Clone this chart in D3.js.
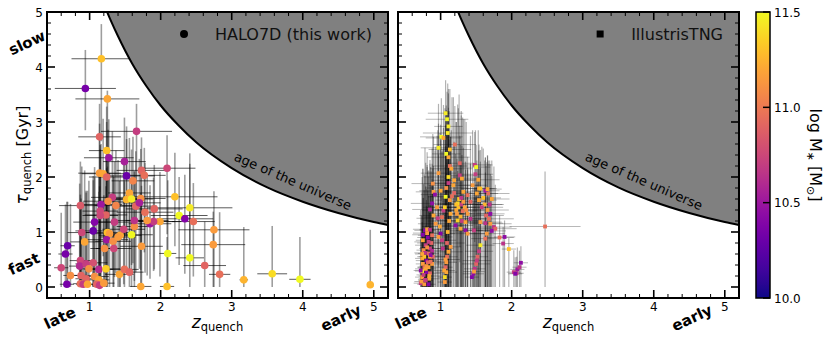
<!DOCTYPE html>
<html><head><meta charset="utf-8">
<script src="https://cdn.jsdelivr.net/npm/d3@7"></script>
<style>body{margin:0;background:#fff}text{font-family:"DejaVu Sans",sans-serif}</style>
</head><body><svg id="c" width="831" height="341"></svg>
<script>
// ---------- HALO7D (observed) ----------
const haloZ=[1.165,0.94,1.25,1.66,1.14,1.24,1.27,1.49,1.52,2.09,
1.14,1.19,1.24,1.73,1.77,1.61,2.20,2.41,2.26,2.34,
2.46,1.91,1.99,1.85,1.90,1.78,1.81,1.65,1.72,1.70,
1.56,1.52,1.59,1.32,1.26,1.16,0.87,1.37,1.15,1.23,
1.35,1.15,1.07,1.05,0.89,0.93,1.25,1.28,1.24,1.33,
1.43,1.40,1.59,1.48,1.63,1.63,1.34,1.21,1.73,0.69,
0.66,0.60,0.73,0.68,0.87,0.86,0.95,1.05,0.99,1.13,
1.23,0.88,0.95,1.07,1.13,0.87,0.91,0.97,1.10,1.14,
1.20,1.42,1.49,1.56,1.72,2.09,2.10,2.41,2.62,2.75,
2.74,2.83,3.17,3.57,3.96,4.95];
const haloTau=[4.15,3.61,3.42,2.83,2.73,2.48,2.35,2.28,2.02,2.16,
2.07,2.06,2.00,2.12,2.03,1.93,1.64,1.44,1.30,1.24,
1.19,1.42,1.19,1.15,1.19,1.36,1.21,1.47,1.61,1.53,
1.71,1.59,1.60,1.63,1.56,1.50,1.48,1.48,1.38,1.31,
1.18,1.30,1.18,1.02,0.99,0.82,0.99,0.97,0.86,0.83,
0.94,0.91,0.95,1.05,1.10,1.21,0.70,0.70,0.74,0.75,
0.60,0.35,0.21,0.05,0.48,0.38,0.42,0.44,0.33,0.32,
0.33,0.21,0.15,0.19,0.13,0.06,0.05,0.05,0.05,0.03,
0.07,0.23,0.32,0.27,0.01,0.01,0.61,0.53,0.39,1.04,
0.77,0.23,0.13,0.24,0.14,0.04];
const haloMass=[11.3,10.35,11.2,10.7,10.9,11.3,10.5,10.55,10.3,10.75,
11.15,11.2,10.9,10.9,10.95,11.05,11.3,11.45,11.5,10.4,
10.95,10.9,11.2,10.5,10.7,10.95,11.15,10.9,11.1,10.55,
11.2,11.25,11.45,10.7,11.1,10.5,10.85,11.05,10.75,10.9,
10.7,10.75,10.4,10.3,10.75,11.2,11.3,11.15,10.5,11.1,
11.2,11.15,11.5,10.75,11.1,10.65,10.75,11.1,11.15,10.3,
10.35,10.75,11.1,10.35,10.75,10.6,10.7,10.8,11.1,10.6,
11.35,10.9,10.9,11.1,11.2,10.95,10.7,11.2,10.9,10.7,
11.15,11.2,10.95,10.9,11.2,11.3,11.5,11.5,10.9,11.15,
11.15,10.95,11.25,11.4,11.5,11.25];
const haloZErr=[.42,.43,.45,.5,.3,.25,.35,.3,.4,.4,
.3,.3,.25,.35,.3,.3,.6,.6,.4,.4,
.3,.4,.3,.3,.3,.4,.3,.3,.35,.3,
.3,.25,.3,.3,.35,.3,.3,.3,.25,.3,
.3,.25,.3,.25,.2,.2,.3,.25,.3,.25,
.3,.25,.3,.3,.25,.3,.25,.2,.3,.1,
.1,.1,.1,.1,.15,.15,.15,.2,.15,.2,
.2,.15,.15,.2,.15,.1,.1,.15,.15,.1,
.15,.2,.2,.2,.15,.1,.12,.2,.3,.5,
.45,.15,.06,.21,.15,.03];
const haloTauLo=[1.5,.76,1.5,1.6,1.0,1.2,1.3,1.4,1.2,1.2,
1.8,1.5,1.2,1.3,1.4,1.5,.9,.9,.9,1.0,
1.0,1.1,1.0,1.0,.9,1.1,1.0,1.2,1.3,1.2,
1.4,1.3,1.2,1.3,1.2,1.3,1.48,1.2,1.2,1.1,
1.0,1.1,1.0,1.02,.99,.82,.99,.97,.86,.83,
.94,.91,.95,1.0,1.1,1.1,.7,.7,.74,.75,
.6,.35,.21,.05,.48,.38,.42,.44,.33,.32,
.33,.21,.15,.19,.13,.06,.05,.05,.05,.03,
.07,.23,.32,.27,.01,.01,.61,.53,.39,1.04,
.77,.23,.13,.24,.14,.04];
const haloTauHi=[.63,.7,.15,.5,.6,.8,.7,.8,.9,.6,
.9,1.0,1.0,.6,.5,.8,.8,.8,.7,.8,
.7,.8,.9,.7,.8,.9,.8,1.0,.9,.8,
1.0,1.1,.9,1.2,1.3,1.1,.8,1.0,1.2,1.0,
1.1,1.2,1.0,1.0,1.2,1.3,1.2,1.1,1.3,1.2,
1.1,1.4,1.0,1.2,1.0,.9,1.3,1.4,1.1,.8,
.9,1.0,1.3,1.5,1.2,1.5,1.3,1.5,1.6,1.7,
1.5,1.4,1.6,1.8,1.6,1.4,1.5,1.7,1.5,1.8,
1.6,1.7,1.6,1.5,1.7,.9,1.33,1.9,.8,.7,
.6,1.13,.96,.87,.77,1.0];

// ---------- IllustrisTNG ----------
const tngZ=[1.07,1.09,1.11,1.01,1.04,1.20,0.97,1.08,1.11,1.13,
1.15,1.27,1.48,1.50,0.97,1.11,1.19,1.27,1.30,0.89,
1.54,1.56,1.63,0.90,0.92,1.00,1.07,1.13,1.19,1.32,
1.38,1.51,1.54,0.88,0.85,0.95,1.04,0.90,1.02,1.14,
1.23,1.28,1.24,1.30,1.35,1.38,1.42,1.21,1.28,1.35,
1.38,1.47,1.56,1.63,1.68,1.70,1.75,1.77,1.72,1.65,
1.63,1.83,1.90,1.88,1.96,1.56,1.54,1.52,1.50,1.48,
1.46,1.44,1.47,1.51,0.78,0.81,0.85,0.75,0.79,0.76,
0.83,0.85,0.80,0.75,0.77,0.83,0.74,0.80,0.85,0.74,
0.78,0.84,0.72,0.77,0.83,0.88,0.89,0.85,0.88,0.82,
1.14,1.11,1.09,1.08,1.07,1.08,1.06,1.06,1.02,1.03,
1.00,0.97,2.03,2.07,2.08,2.11,2.13,2.05,2.47,
0.73,0.76,0.79,0.82,0.86,0.74,0.78,0.81,0.87,0.75,
0.79,0.84,0.72,0.80,0.86,0.77,0.83,0.74,0.81,0.88,
1.05,1.07,1.09,1.10,1.12,1.06,1.08,1.11,1.13,1.10,
1.22,1.25,1.29,1.32,1.26,1.31,1.34,1.24,1.29,1.36,
1.64,1.66,1.69,1.72,1.67,1.70,1.62,1.66,1.58,1.60,
1.53,1.49,1.45,1.42,1.18,1.16,1.22,0.93,0.96,0.99];
const tngTau=[3.16,3.05,2.92,2.73,2.71,2.59,2.53,2.42,2.36,2.20,
2.15,2.25,2.22,2.18,2.07,1.89,1.94,2.03,1.97,1.88,
1.79,1.79,1.75,1.73,1.68,1.75,1.64,1.58,1.71,1.73,
1.67,1.70,1.58,1.52,1.41,1.45,1.39,1.30,1.27,1.33,
1.33,1.28,1.21,1.20,1.18,1.33,1.24,1.12,1.06,1.03,
0.97,1.03,1.18,1.16,1.24,1.15,1.09,1.06,1.02,0.97,
0.88,0.90,0.91,0.79,0.69,0.76,0.65,0.55,0.42,0.33,
0.24,0.18,0.28,0.48,1.03,1.05,1.04,0.85,0.76,0.67,
0.61,0.55,0.48,0.42,0.36,0.36,0.29,0.27,0.25,0.18,
0.13,0.15,0.07,0.05,0.05,0.42,0.55,0.70,0.94,0.90,
0.73,0.64,0.55,0.45,0.36,0.27,0.18,0.09,0.85,0.70,
0.97,0.91,0.27,0.25,0.32,0.36,0.44,0.24,1.10,
0.10,0.22,0.33,0.45,0.58,0.52,0.62,0.72,0.80,0.95,
0.12,0.20,0.30,0.38,0.46,0.55,0.82,0.60,0.98,0.66,
0.30,0.50,0.80,1.00,1.20,1.45,1.80,2.00,2.50,2.80,
1.40,1.45,1.50,1.55,1.60,1.38,1.45,1.52,1.62,1.40,
1.30,1.40,1.50,1.60,1.70,1.33,1.50,1.78,1.45,1.62,
1.95,2.05,1.85,1.55,1.85,1.65,1.50,1.15,1.25,1.10];
const tngMass=[11.45,11.5,11.45,11.5,11.2,10.95,11.45,11.5,11.2,10.95,
11.2,10.9,10.7,11.5,11.15,10.7,11.2,10.7,11.2,11.1,
11.2,11.3,10.5,11.15,10.45,11.2,11.5,11.15,10.9,11.2,
10.95,11.2,11.2,10.45,10.6,11.15,10.7,11.2,10.95,11.2,
11.15,11.25,11.35,10.7,11.2,11.15,10.65,10.45,11.2,10.45,
11.15,10.7,11.15,10.65,10.95,11.15,10.65,10.9,10.45,11.15,
10.95,10.95,10.45,10.65,11.3,11.45,10.7,10.9,10.9,10.65,
10.45,10.4,11.15,10.7,10.4,11.15,10.65,11.2,10.7,11.1,
10.9,11.2,10.4,11.15,10.95,11.2,11.45,10.4,10.9,11.15,
10.7,11.2,10.65,11.15,10.4,11.15,10.9,10.7,10.95,10.4,
11.15,11.2,10.95,11.15,10.9,11.2,11.4,11.15,10.7,10.65,
10.4,11.15,10.7,10.65,10.5,10.65,10.45,10.4,10.95,
11.15,10.7,11.2,10.9,10.45,11.2,10.65,11.1,10.9,10.4,
10.7,11.2,10.45,11.15,10.95,11.3,10.7,11.2,11.15,10.6,
11.2,11.15,10.9,11.25,11.2,11.35,11.1,11.4,11.3,11.45,
11.2,11.3,10.7,11.15,11.35,10.95,11.2,11.4,10.65,11.1,
10.9,11.15,10.65,11.2,10.95,10.45,11.25,11.2,10.7,11.3,
11.2,10.7,11.15,10.9,11.2,10.95,11.3,11.15,10.7,11.2];
const tngZErr=[.25,.3,.2,.3,.25,.3,.25,.2,.3,.25,
.3,.2,.25,.2,.25,.2,.3,.2,.25,.3,
.25,.2,.2,.25,.2,.3,.25,.2,.25,.3,
.2,.3,.25,.3,.25,.2,.3,.2,.25,.3,
.25,.2,.3,.25,.2,.3,.2,.25,.2,.25,
.3,.25,.3,.25,.35,.3,.25,.3,.2,.25,
.2,.2,.15,.15,.1,.2,.2,.15,.2,.15,
.15,.1,.15,.2,.15,.2,.15,.1,.15,.1,
.15,.1,.15,.1,.1,.15,.1,.1,.15,.1,
.1,.15,.1,.1,.1,.15,.2,.15,.2,.15,
.15,.2,.15,.15,.1,.15,.1,.1,.2,.15,
.2,.2,.1,.1,.1,.1,.1,.1,.5,
.1,.1,.15,.1,.15,.1,.15,.1,.2,.15,
.1,.15,.1,.1,.15,.1,.2,.1,.2,.15,
.15,.2,.25,.3,.3,.25,.3,.35,.3,.35,
.3,.25,.3,.3,.25,.2,.3,.25,.3,.25,
.25,.3,.2,.25,.3,.2,.25,.2,.3,.25,
.3,.25,.2,.25,.35,.3,.3,.25,.3,.25];
const tngTauLo=[1.2,1.3,1.1,1.2,1.4,1.5,1.3,1.6,2.36,1.5,
2.15,1.8,1.4,1.6,1.7,1.89,1.5,1.3,1.97,1.88,
1.79,1.5,1.75,1.73,1.68,1.75,1.64,1.58,1.71,1.73,
1.67,1.7,1.58,1.52,1.41,1.45,1.39,1.3,1.27,1.33,
1.33,1.28,1.21,1.2,1.18,1.33,1.24,1.12,1.06,1.03,
.97,1.03,1.18,1.16,1.24,1.15,1.09,1.06,1.02,.97,
.88,.9,.91,.79,.69,.76,.65,.55,.42,.33,
.24,.18,.28,.48,1.03,1.05,1.04,.85,.76,.67,
.61,.55,.48,.42,.36,.36,.29,.27,.25,.18,
.13,.15,.07,.05,.05,.42,.55,.7,.94,.9,
.73,.64,.55,.45,.36,.27,.18,.09,.85,.7,
.97,.91,.27,.25,.32,.36,.44,.24,1.1,
.10,.22,.33,.45,.58,.52,.62,.72,.80,.95,
.12,.20,.30,.38,.46,.55,.82,.60,.98,.66,
.30,.50,.80,1.0,1.2,1.45,1.8,2.0,2.5,2.8,
1.4,1.45,1.5,1.55,1.6,1.38,1.45,1.52,1.62,1.4,
1.3,1.4,1.5,1.6,1.7,1.33,1.5,1.78,1.45,1.62,
1.95,2.05,1.85,1.55,1.85,1.65,1.5,1.15,1.25,1.1];
const tngTauHi=[.6,.5,.6,.7,.6,.7,.8,.8,.9,.6,
.7,.5,.6,.4,.9,.8,.7,.9,.6,.9,
.8,.7,.6,1.0,.8,1.2,1.3,1.1,.9,.8,
.7,.6,.9,1.0,.9,1.3,1.5,.9,1.2,1.4,
1.0,1.3,.9,1.2,1.1,.8,1.0,1.3,1.2,1.1,
1.2,1.0,1.1,1.2,1.0,.9,1.1,.8,1.0,1.3,
1.2,.4,.3,.3,.2,1.4,1.5,1.6,1.4,1.5,
1.3,1.2,1.4,1.5,1.5,1.4,1.2,1.3,1.5,1.2,
1.4,1.3,1.1,1.2,1.4,1.3,1.0,1.2,1.1,1.0,
.9,1.2,.8,1.0,.9,1.5,1.6,1.4,1.3,1.2,
2.0,2.2,2.4,2.0,2.2,1.8,2.0,1.6,1.6,1.8,
1.7,1.5,.4,.3,.4,.3,.3,.3,1.0,
1.2,1.4,1.5,1.3,1.6,1.2,1.4,1.5,1.3,1.2,
1.0,1.3,1.1,1.4,1.2,1.5,1.3,1.4,1.2,1.3,
2.4,2.6,2.4,2.2,2.0,1.8,1.5,1.6,1.1,0.9,
1.6,1.8,1.7,1.5,1.9,1.7,1.6,1.8,1.5,1.6,
0.9,1.0,0.8,0.7,0.6,0.9,0.8,0.6,1.1,0.9,
0.9,0.8,1.0,1.2,1.6,1.8,1.5,1.4,1.6,1.7];

// ---------- age of the universe (Gyr) at redshift ----------
const ageZ=[1.2,1.25,1.3,1.4,1.6,1.8,2.0,2.25,2.5,3.0,3.5,4.0,4.5,5.0,5.2];
const ageTau=[5.15,4.99,4.84,4.56,4.06,3.65,3.30,2.94,2.63,2.16,1.81,1.55,1.345,1.18,1.125];

const xTickVals=[1,2,3,4,5];
const yTickVals=[0,1,2,3,4,5];
const cbTickVals=[10.0,10.5,11.0,11.5];
const cbTickLabels=["10.0","10.5","11.0","11.5"];
const massDomain=[10,11.5];

const svg=d3.select("#c");
const color=d3.scaleSequential(d3.interpolatePlasma).domain(massDomain);
const Y0=12,Y1=298;
const y=d3.scaleLinear().domain([-0.2,5]).range([Y1,Y0]);

const panels=[
 {x0:47,x1:388,label:"HALO7D (this work)",marker:"circle",showY:true,
  z:haloZ,t:haloTau,m:haloMass,ze:haloZErr,tl:haloTauLo,th:haloTauHi},
 {x0:398,x1:739,label:"IllustrisTNG",marker:"square",showY:false,
  z:tngZ,t:tngTau,m:tngMass,ze:tngZErr,tl:tngTauLo,th:tngTauHi}
];

const defs=svg.append("defs");
panels.forEach((p,pi)=>{
  const x=d3.scaleLinear().domain([0.4,5.2]).range([p.x0,p.x1]);
  defs.append("clipPath").attr("id","clip"+pi).append("rect")
    .attr("x",p.x0).attr("y",Y0).attr("width",p.x1-p.x0).attr("height",Y1-Y0);
  const g=svg.append("g").attr("clip-path",`url(#clip${pi})`);
  const idx=d3.range(p.z.length);
  const eb=g.append("g");
  const vOp=pi===0?0.38:0.3, hOp=pi===0?0.72:0.28;
  const vW=pi===0?1.6:1.2, hW=pi===0?0.9:1;
  eb.selectAll("line.v").data(idx).join("line")
    .attr("x1",i=>x(p.z[i])).attr("x2",i=>x(p.z[i]))
    .attr("y1",i=>y(p.t[i]-p.tl[i])).attr("y2",i=>y(p.t[i]+p.th[i]))
    .attr("stroke","#000").attr("stroke-opacity",vOp).attr("stroke-width",vW);
  eb.selectAll("line.h").data(idx).join("line")
    .attr("x1",i=>x(p.z[i]-p.ze[i])).attr("x2",i=>x(p.z[i]+p.ze[i]))
    .attr("y1",i=>y(p.t[i])).attr("y2",i=>y(p.t[i]))
    .attr("stroke","#000").attr("stroke-opacity",hOp).attr("stroke-width",hW);
  // age of universe region
  const ageIdx=d3.range(ageZ.length);
  g.append("path").datum(ageIdx)
    .attr("d",d3.area().curve(d3.curveMonotoneX).x(i=>x(ageZ[i])).y0(y(5.5)).y1(i=>y(ageTau[i])))
    .attr("fill","#808080");
  g.append("path").datum(ageIdx)
    .attr("d",d3.line().curve(d3.curveMonotoneX).x(i=>x(ageZ[i])).y(i=>y(ageTau[i])))
    .attr("fill","none").attr("stroke","#000").attr("stroke-width",2);
  g.append("text").attr("transform",`translate(${x(3.02)},${y(2.31)}) rotate(23.5)`)
    .attr("font-size",13).attr("fill","#000").text("age of the universe");
  // points
  if(p.marker==="circle"){
    g.selectAll("circle.pt").data(idx).join("circle")
      .attr("cx",i=>x(p.z[i])).attr("cy",i=>y(p.t[i])).attr("r",3.8)
      .attr("fill",i=>color(p.m[i]));
  } else {
    const s=3.8;
    g.selectAll("rect.pt").data(idx).join("rect")
      .attr("x",i=>x(p.z[i])-s/2).attr("y",i=>y(p.t[i])-s/2).attr("width",s).attr("height",s)
      .attr("fill",i=>color(p.m[i]));
  }
  // legend
  const lt=svg.append("text").attr("x",p.x1-16).attr("y",40).attr("text-anchor","end")
    .attr("font-size",16).attr("fill","#111").text(p.label);
  const bb=lt.node().getBBox();
  const mx=bb.x-31;
  if(p.marker==="circle") svg.append("circle").attr("cx",mx).attr("cy",34).attr("r",4).attr("fill","#000");
  else svg.append("rect").attr("x",mx-3.5).attr("y",30.5).attr("width",7).attr("height",7).attr("fill","#000");
  // frame
  svg.append("rect").attr("x",p.x0).attr("y",Y0).attr("width",p.x1-p.x0).attr("height",Y1-Y0)
    .attr("fill","none").attr("stroke","#000").attr("stroke-width",2);
  // ticks
  const tk=svg.append("g").attr("stroke","#000");
  const xMinor=d3.range(0.6,5.2,0.2).filter(v=>Math.abs(v-Math.round(v))>0.01);
  const yMinor=d3.range(0.2,5,0.2).filter(v=>Math.abs(v-Math.round(v))>0.01);
  xTickVals.forEach(v=>{
    tk.append("line").attr("x1",x(v)).attr("x2",x(v)).attr("y1",Y1).attr("y2",Y1-8).attr("stroke-width",1.6);
    tk.append("line").attr("x1",x(v)).attr("x2",x(v)).attr("y1",Y0).attr("y2",Y0+8).attr("stroke-width",1.6);
  });
  xMinor.forEach(v=>{
    tk.append("line").attr("x1",x(v)).attr("x2",x(v)).attr("y1",Y1).attr("y2",Y1-4).attr("stroke-width",1);
    tk.append("line").attr("x1",x(v)).attr("x2",x(v)).attr("y1",Y0).attr("y2",Y0+4).attr("stroke-width",1);
  });
  yTickVals.forEach(v=>{
    tk.append("line").attr("x1",p.x0).attr("x2",p.x0+8).attr("y1",y(v)).attr("y2",y(v)).attr("stroke-width",1.6);
    tk.append("line").attr("x1",p.x1).attr("x2",p.x1-8).attr("y1",y(v)).attr("y2",y(v)).attr("stroke-width",1.6);
  });
  yMinor.forEach(v=>{
    tk.append("line").attr("x1",p.x0).attr("x2",p.x0+4).attr("y1",y(v)).attr("y2",y(v)).attr("stroke-width",1);
    tk.append("line").attr("x1",p.x1).attr("x2",p.x1-4).attr("y1",y(v)).attr("y2",y(v)).attr("stroke-width",1);
  });
  xTickVals.forEach(v=>{
    svg.append("text").attr("x",x(v)).attr("y",311).attr("text-anchor","middle")
      .attr("font-size",12).text(String(v));
  });
  if(p.showY){
    yTickVals.forEach(v=>{
      svg.append("text").attr("x",p.x0-4).attr("y",y(v)+4.5).attr("text-anchor","end")
        .attr("font-size",12).text(String(v));
    });
  }
  const xl=svg.append("text").attr("x",(p.x0+p.x1)/2).attr("y",328).attr("text-anchor","middle");
  xl.append("tspan").attr("font-size",17).attr("font-style","italic").text("z");
  xl.append("tspan").attr("font-size",11.5).attr("dy",3).text("quench");
  const lab=(cx,cy,s)=>svg.append("text").attr("transform",`translate(${cx},${cy}) rotate(-25)`)
     .attr("text-anchor","middle").attr("dominant-baseline","central")
     .attr("font-size",15).attr("font-weight","bold").text(s);
  lab(x(0.4)+13,318,"late");
  lab(x(5.2)-47,318,"early");
});

const yl=svg.append("text").attr("transform","translate(28,155) rotate(-90)").attr("text-anchor","middle");
yl.append("tspan").attr("font-size",17).attr("font-style","italic").text("τ");
yl.append("tspan").attr("font-size",11.5).attr("dy",3).text("quench");
yl.append("tspan").attr("font-size",16).attr("dy",-3).text(" [Gyr]");
const lab2=(cx,cy,s)=>svg.append("text").attr("transform",`translate(${cx},${cy}) rotate(-25)`)
   .attr("text-anchor","middle").attr("dominant-baseline","central")
   .attr("font-size",15).attr("font-weight","bold").text(s);
lab2(27,43,"slow");
lab2(24,264,"fast");

// colorbar
const cbX=756,cbW=14;
const grad=defs.append("linearGradient").attr("id","cbg").attr("x1",0).attr("y1",1).attr("x2",0).attr("y2",0);
d3.range(0,1.0001,0.05).forEach(t=>grad.append("stop").attr("offset",t).attr("stop-color",d3.interpolatePlasma(t)));
svg.append("rect").attr("x",cbX).attr("y",Y0).attr("width",cbW).attr("height",Y1-Y0).attr("fill","url(#cbg)");
svg.append("rect").attr("x",cbX).attr("y",Y0).attr("width",cbW).attr("height",Y1-Y0).attr("fill","none").attr("stroke","#000").attr("stroke-width",1.5);
const cy=d3.scaleLinear().domain(massDomain).range([Y1,Y0]);
cbTickVals.forEach((v,i)=>{
  svg.append("line").attr("x1",cbX+cbW-7).attr("x2",cbX+cbW).attr("y1",cy(v)).attr("y2",cy(v)).attr("stroke","#000").attr("stroke-width",1.5);
  svg.append("text").attr("x",cbX+cbW+4).attr("y",cy(v)+4.5).attr("font-size",12).text(cbTickLabels[i]);
});
const cl=svg.append("text").attr("transform","translate(810,155) rotate(90)").attr("text-anchor","middle").attr("font-size",16);
cl.append("tspan").text("log M");
cl.append("tspan").attr("font-size",11).attr("dy",3).text("∗");
cl.append("tspan").attr("dy",-3).text(" [M");
cl.append("tspan").attr("font-size",11).attr("dy",3).text("⊙");
cl.append("tspan").attr("dy",-3).text("]");
</script></body></html>
